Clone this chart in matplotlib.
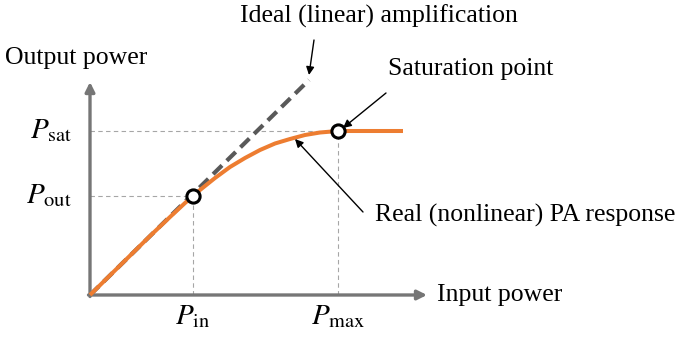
import matplotlib
matplotlib.use("Agg")
import matplotlib.pyplot as plt

plt.rcParams['font.family'] = ['Liberation Serif', 'DejaVu Serif']
plt.rcParams['mathtext.fontset'] = 'stix'

# Data (schematic units)
real_x = [0, 30, 60, 80, 95, 110, 125, 140, 155, 170, 185, 200, 215, 230, 248, 270, 313]
real_y = [0, 29.5, 59, 78, 92, 105, 117, 128, 137, 145, 151.5, 156, 160, 162.5, 164, 164, 164]
ideal_x = [0, 219]
ideal_y = [0, 215]
p_in, p_out = 103, 99
p_max, p_sat = 248, 164
x_axis_end, y_axis_end = 337, 213
tick_labels_x = [r'$P_{\mathrm{in}}$', r'$P_{\mathrm{max}}$']
tick_labels_y = [r'$P_{\mathrm{out}}$', r'$P_{\mathrm{sat}}$']

fig = plt.figure(figsize=(6.76, 3.37), dpi=100)
ax = fig.add_axes([0, 0, 1, 1])
ax.set_xlim(-90, 586)
ax.set_ylim(-42, 295)
ax.axis('off')

axis_col = '#767676'
# axes arrows
ax.annotate('', xy=(x_axis_end, 0), xytext=(-1.5, 0),
            arrowprops=dict(arrowstyle='-|>', color=axis_col, lw=2.4,
                            mutation_scale=14, shrinkA=0, shrinkB=0))
ax.annotate('', xy=(0, y_axis_end), xytext=(0, -1.5),
            arrowprops=dict(arrowstyle='-|>', color=axis_col, lw=2.4,
                            mutation_scale=14, shrinkA=0, shrinkB=0))

# guide lines
gcol = '#a6a6a6'
gkw = dict(color=gcol, lw=0.8, ls=(0, (4, 3)), zorder=1)
ax.plot([0, p_max], [p_sat, p_sat], **gkw)
ax.plot([p_max, p_max], [0, p_sat], **gkw)
ax.plot([0, p_in], [p_out, p_out], **gkw)
ax.plot([p_in, p_in], [0, p_out], **gkw)

# ideal line
ax.plot(ideal_x, ideal_y, color='#595959', lw=3.0, dashes=(3, 1.6), zorder=2,
        solid_capstyle='butt', dash_capstyle='butt')
# real response
ax.plot(real_x, real_y, color='#ED7D31', lw=2.9, zorder=3, solid_capstyle='butt')

# markers
ax.plot([p_in, p_max], [p_out, p_sat], 'o', ms=9.5, mfc='white', mec='black',
        mew=2.2, zorder=5)

fs = 18.5
mfs = 21
# tick labels
ax.text(p_in, -22, tick_labels_x[0], ha='center', va='center', fontsize=mfs)
ax.text(p_max, -22, tick_labels_x[1], ha='center', va='center', fontsize=mfs)
ax.text(-18, p_out, tick_labels_y[0], ha='right', va='center', fontsize=mfs)
ax.text(-18, p_sat, tick_labels_y[1], ha='right', va='center', fontsize=mfs)

# axis titles
ax.text(-85, 237, 'Output power', ha='left', va='center', fontsize=fs)
ax.text(347, 0, 'Input power', ha='left', va='center', fontsize=fs)

# annotations
akw = dict(arrowstyle='-|>', color='black', lw=1.0, mutation_scale=12,
           shrinkA=0, shrinkB=0)
ax.text(150, 279, 'Ideal (linear) amplification', ha='left', va='center', fontsize=fs)
ax.annotate('', xy=(219, 220), xytext=(224, 255), arrowprops=akw)
ax.text(298, 226, 'Saturation point', ha='left', va='center', fontsize=fs)
ax.annotate('', xy=(253, 167), xytext=(296, 202), arrowprops=akw)
ax.text(285, 80, 'Real (nonlinear) PA response', ha='left', va='center', fontsize=fs)
ax.annotate('', xy=(205, 156), xytext=(273, 83), arrowprops=akw)

fig.savefig('out.png', dpi=100)
